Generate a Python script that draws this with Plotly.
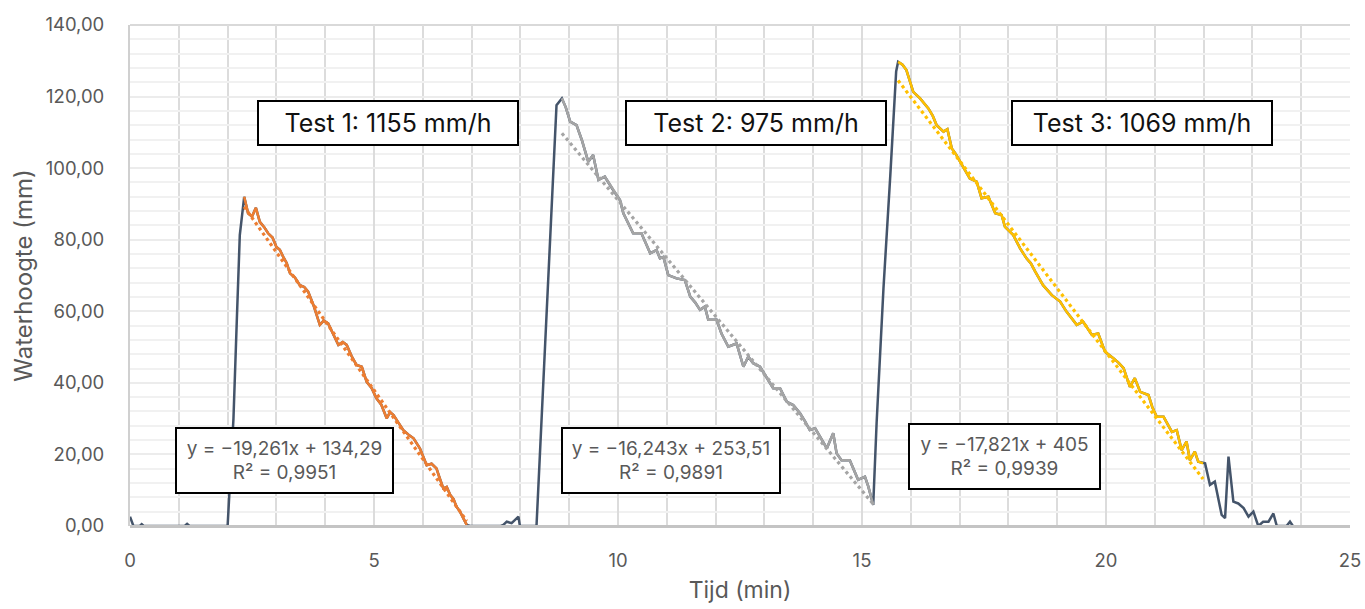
import plotly.graph_objects as go

# ---------------- data ----------------
# base measurement segments (dark line) outside the fitted tests
base0_t = [0.00, 0.07, 0.20, 0.24, 0.28, 1.12, 1.17, 1.22, 2.00, 2.12, 2.19, 2.25]
base0_v = [2.6, 0.0, 0.0, 0.5, 0.0, 0.0, 0.6, 0.0, 0.0, 30.0, 58.0, 81.3]

base1_t = [6.97, 7.60, 7.65, 7.72, 7.82, 7.89, 7.96, 7.99, 8.33, 8.74]
base1_v = [0.0, 0.0, 0.3, 1.2, 0.8, 1.7, 2.6, 0.0, 0.0, 117.6]

base2_t = [15.30, 15.44, 15.58, 15.70]
base2_v = [29.0, 66.4, 98.0, 127.0]

base3_t = [22.03, 22.13, 22.23, 22.37, 22.44, 22.51, 22.61, 22.71, 22.82, 22.92,
           23.02, 23.12, 23.22, 23.33, 23.43, 23.50, 23.70, 23.77, 23.83]
base3_v = [17.5, 11.5, 12.4, 3.1, 2.2, 19.4, 6.8, 6.3, 5.0, 2.6,
           4.0, 0.0, 1.2, 1.2, 3.5, 0.0, 0.0, 1.2, 0.0]

# Test 1 (orange)
test1_t = [2.34, 2.42, 2.50, 2.58, 2.66, 2.75, 2.83, 2.92, 3.00, 3.07,
           3.14, 3.21, 3.28, 3.38, 3.48, 3.57, 3.65, 3.76, 3.89, 3.97,
           4.06, 4.17, 4.27, 4.36, 4.44, 4.54, 4.64, 4.75, 4.85, 4.95,
           5.05, 5.15, 5.26, 5.33, 5.40, 5.50, 5.60, 5.70, 5.81, 5.94,
           6.01, 6.08, 6.18, 6.28, 6.35, 6.42, 6.49, 6.56, 6.63, 6.69,
           6.76, 6.83, 6.90]
test1_v = [92.0, 87.4, 86.5, 88.9, 85.0, 83.5, 81.8, 80.6, 78.0, 77.2,
           75.2, 73.5, 70.6, 69.4, 67.3, 66.8, 65.5, 61.7, 56.2, 57.4,
           56.6, 53.5, 50.6, 51.4, 50.6, 47.5, 45.0, 44.5, 40.3, 38.6,
           35.7, 33.9, 30.1, 31.8, 31.0, 28.9, 26.8, 25.6, 24.5, 21.7,
           19.4, 17.0, 17.4, 16.1, 13.2, 10.5, 10.9, 8.7, 7.5, 5.4,
           4.1, 2.2, 0.3]

# Test 2 (grey)
test2_t = [8.85, 8.93, 9.02, 9.15, 9.26, 9.39, 9.49, 9.60, 9.73, 9.90,
           10.04, 10.11, 10.21, 10.31, 10.48, 10.57, 10.66, 10.79, 10.86, 10.93,
           11.03, 11.20, 11.37, 11.48, 11.58, 11.68, 11.78, 11.85, 12.02, 12.12,
           12.26, 12.43, 12.57, 12.67, 12.77, 12.91, 13.05, 13.18, 13.32, 13.46,
           13.59, 13.73, 13.83, 13.93, 14.04, 14.16, 14.28, 14.41, 14.48, 14.58,
           14.75, 14.92, 15.06, 15.13, 15.23]
test2_v = [119.5, 117.0, 113.0, 112.0, 107.8, 101.8, 103.7, 96.7, 97.6, 93.9,
           91.1, 87.4, 84.8, 81.8, 81.8, 79.0, 76.2, 77.1, 74.8, 75.2,
           70.1, 69.2, 68.7, 64.1, 62.5, 60.4, 61.3, 57.6, 57.6, 53.8,
           50.1, 51.0, 44.5, 47.3, 45.5, 44.5, 41.5, 38.5, 38.5, 34.7,
           33.8, 31.5, 29.3, 26.8, 27.3, 24.3, 21.7, 25.9, 20.3, 18.4,
           18.4, 12.9, 13.8, 11.0, 5.9]

# Test 3 (gold)
test3_t = [15.74, 15.83, 15.91, 15.98, 16.05, 16.19, 16.36, 16.45, 16.53, 16.67,
           16.75, 16.84, 16.92, 17.01, 17.11, 17.21, 17.35, 17.45, 17.59, 17.73,
           17.86, 17.93, 18.10, 18.24, 18.37, 18.46, 18.55, 18.71, 18.89, 19.06,
           19.19, 19.30, 19.40, 19.53, 19.71, 19.84, 19.98, 20.15, 20.26, 20.36,
           20.49, 20.59, 20.70, 20.87, 20.95, 21.04, 21.18, 21.35, 21.45, 21.55,
           21.65, 21.72, 21.82, 21.89, 21.99]
test3_v = [129.7, 128.9, 127.4, 124.5, 121.3, 119.5, 116.7, 114.6, 112.0, 110.2,
           110.9, 105.5, 104.0, 101.8, 99.3, 97.1, 96.2, 91.6, 92.0, 87.4,
           86.9, 83.6, 81.3, 77.6, 74.8, 73.4, 71.1, 67.3, 64.5, 62.7,
           59.9, 58.1, 56.2, 57.1, 53.4, 53.8, 48.7, 46.9, 45.6, 44.1,
           38.9, 41.3, 37.5, 36.6, 33.2, 30.5, 30.5, 26.3, 26.8, 21.2,
           23.6, 18.4, 20.8, 18.0, 17.5]

# Linear trendline coefficients (from chart labels)
slopes = [-19.261, -16.243, -17.821]
intercepts = [134.29, 253.51, 405.0]
r2_values = ["0,9951", "0,9891", "0,9939"]
eq_labels = ["y = −19,261x + 134,29", "y = −16,243x + 253,51", "y = −17,821x + 405"]
test_labels = ["Test 1: 1155 mm/h", "Test 2: 975 mm/h", "Test 3: 1069 mm/h"]

x_title = "Tijd (min)"
y_title = "Waterhoogte (mm)"

# ---------------- styling ----------------
DARK = "#44546a"
COLORS = ["#ed7d31", "#a5a5a5", "#ffc000"]
FONT = "Inter, Noto Sans, sans-serif"
GREY_TXT = "#595959"

fig = go.Figure()

all_t = base0_t + test1_t + base1_t + test2_t + base2_t + test3_t + base3_t
all_v = base0_v + test1_v + base1_v + test2_v + base2_v + test3_v + base3_v
fig.add_trace(go.Scatter(x=all_t, y=all_v, mode="lines",
                         line=dict(color=DARK, width=2.5),
                         hoverinfo="skip", showlegend=False))

tests = [(test1_t, test1_v), (test2_t, test2_v), (test3_t, test3_v)]
for (tt, vv), c in zip(tests, COLORS):
    fig.add_trace(go.Scatter(x=tt, y=vv, mode="lines",
                             line=dict(color=c, width=2.5),
                             showlegend=False))

for (tt, vv), c, a, b in zip(tests, COLORS, slopes, intercepts):
    xs = [tt[0], tt[-1]]
    ys = [a * x + b for x in xs]
    fig.add_trace(go.Scatter(x=xs, y=ys, mode="lines",
                             line=dict(color=c, width=3.2, dash="dot"),
                             showlegend=False))

# Test labels
test_pos = [(5.277, 112.7), (12.82, 112.6), (20.73, 112.6)]
for (x, y), txt in zip(test_pos, test_labels):
    fig.add_annotation(x=x, y=y, text=txt, showarrow=False,
                       font=dict(family=FONT, size=25, color="#111111"),
                       bgcolor="white", bordercolor="black", borderwidth=2,
                       borderpad=0, width=258, height=42)

# Equation labels
eq_pos = [(3.166, 18.44, 215), (11.076, 18.44, 216), (17.92, 19.56, 189)]
for (x, y, w), eq, r2 in zip(eq_pos, eq_labels, r2_values):
    fig.add_annotation(x=x, y=y, text=f"{eq}<br>R² = {r2}", showarrow=False,
                       font=dict(family=FONT, size=19, color=GREY_TXT),
                       bgcolor="white", bordercolor="black", borderwidth=2,
                       borderpad=0, width=w, height=63, align="center")

# top border
fig.add_shape(type="line", xref="paper", yref="paper", x0=0, x1=1, y0=1, y1=1,
              line=dict(color="#d9d9d9", width=2), layer="below")

fig.update_layout(
    width=1365, height=609,
    margin=dict(l=130, r=15, t=25, b=83),
    paper_bgcolor="white", plot_bgcolor="white",
    separators=",.",
    font=dict(family=FONT, color=GREY_TXT),
    xaxis=dict(range=[0, 25], dtick=5, tick0=0, automargin=False,
               showgrid=True, gridcolor="#dcdcdc", gridwidth=2,
               minor=dict(dtick=1, showgrid=True, gridcolor="#dcdcdc", gridwidth=2),
               showline=False,
               zeroline=False, ticks="", ticklabelstandoff=21,
               tickfont=dict(size=18.5, color=GREY_TXT),
               title=dict(text=x_title, font=dict(size=23, color=GREY_TXT), standoff=12)),
    yaxis=dict(range=[0, 140], dtick=20, tick0=0, tickformat=".2f", automargin=False,
               showgrid=True, gridcolor="#ececec", gridwidth=2,
               minor=dict(dtick=4, showgrid=True, gridcolor="#f1f1f1", gridwidth=2),
               showline=True, linecolor="#d0d0d0", linewidth=2,
               zeroline=True, zerolinecolor="#c4c4c4", zerolinewidth=3,
               zerolinelayer="above traces",
               ticks="", ticklabelstandoff=20,
               tickfont=dict(size=18.5, color=GREY_TXT),
               title=dict(text=y_title, font=dict(size=24, color=GREY_TXT), standoff=6)),
)

fig.write_html("out.html")
